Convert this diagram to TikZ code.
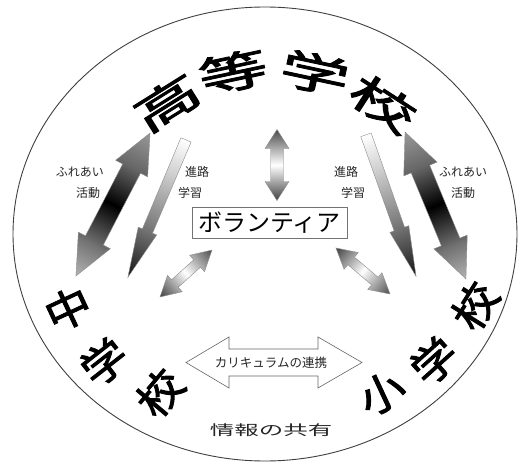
\documentclass[tikz,border=0pt]{standalone}
\usepackage{fontspec}
\newfontfamily\jp{Noto Sans CJK JP}
\newfontfamily\jpb[FakeBold=2]{Noto Sans CJK JP}
\pgfdeclarehorizontalshading{fureai}{100bp}{color(0bp)=(black!30); color(25bp)=(black!30); color(36bp)=(black!55); color(50bp)=(black); color(63bp)=(black!60); color(75bp)=(black!40); color(100bp)=(black!40)}
\pgfdeclarehorizontalshading{shinro}{100bp}{color(0bp)=(white); color(25bp)=(white); color(38bp)=(black!20); color(58bp)=(black!55); color(75bp)=(black!92); color(100bp)=(black!92)}
\pgfdeclarehorizontalshading{volsh}{100bp}{color(0bp)=(black!75); color(25bp)=(black!75); color(50bp)=(white); color(75bp)=(black!70); color(100bp)=(black!70)}
% double block arrow: x y angle length shafthalf headhalf headlen shading
\newcommand{\DArr}[8]{%
  \begin{scope}[transform canvas={shift={(#1,#2)},rotate=#3}]
    \pgfmathsetmacro\hh{#4/2}
    \shadedraw[shading=#8, draw=black!45, line width=0.4pt]
      (-\hh,0) -- ({-\hh+#7},#6) -- ({-\hh+#7},#5) -- ({\hh-#7},#5) -- ({\hh-#7},#6) -- (\hh,0)
      -- ({\hh-#7},-#6) -- ({\hh-#7},-#5) -- ({-\hh+#7},-#5) -- ({-\hh+#7},-#6) -- cycle;
  \end{scope}}
% single block arrow (tip at +x)
\newcommand{\SArr}[8]{%
  \begin{scope}[transform canvas={shift={(#1,#2)},rotate=#3}]
    \pgfmathsetmacro\hh{#4/2}
    \shadedraw[shading=#8, draw=black!45, line width=0.4pt]
      (-\hh,#5) -- ({\hh-#7},#5) -- ({\hh-#7},#6) -- (\hh,0)
      -- ({\hh-#7},-#6) -- ({\hh-#7},-#5) -- (-\hh,-#5) -- cycle;
  \end{scope}}
\begin{document}
\begin{tikzpicture}[x=1pt,y=-1pt,
  bigT/.style={inner sep=0pt, font=\jpb\fontsize{42}{42}\selectfont},
  bigS/.style={inner sep=0pt, font=\jpb\fontsize{42}{42}\selectfont},
  lbl/.style={inner sep=0pt, text=black!85, font=\jp\fontsize{12}{12}\selectfont}]
\useasboundingbox (0,0) rectangle (523,463);
\fill[white] (0,0) rectangle (523,463);
\draw[black!75, line width=0.9pt] (265,234) ellipse [x radius=252pt, y radius=227pt];

% arched title 高等学校
\node[bigT, rotate=32]  (h1) at (167,103) {\scalebox{1.65}[1]{高}};
\node[bigT, rotate=12]  (h2) at (233,72)  {\scalebox{1.65}[1]{等}};
\node[bigT, rotate=-12] (h3) at (315,73)  {\scalebox{1.65}[1]{学}};
\node[bigT, rotate=-33] (h4) at (383,104) {\scalebox{1.65}[1]{校}};

% 中学校
\node[bigS, rotate=25] (c1) at (68,309)  {\scalebox{1.1}[1]{中}};
\node[bigS, rotate=38] (c2) at (104,362) {\scalebox{1.1}[1]{学}};
\node[bigS, rotate=50] (c3) at (160,393) {\scalebox{1.1}[1]{校}};

% 小学校
\node[bigS, rotate=25] (s1) at (382,393) {\scalebox{1.1}[1]{小}};
\node[bigS, rotate=42] (s2) at (434,361) {\scalebox{1.1}[1]{学}};
\node[bigS, rotate=58] (s3) at (475,306) {\scalebox{1.1}[1]{校}};

% block arrows
\DArr{113}{204.5}{62.6}{161}{10}{18}{40}{fureai}
\DArr{435.5}{205.5}{112.5}{159}{10}{18}{40}{fureai}
\SArr{157}{208.5}{247.05}{149}{5.5}{10}{50}{shinro}
\SArr{391}{205.5}{289.5}{150}{5.5}{10}{50}{shinro}
\DArr{277}{165}{90}{71}{6.5}{12}{19}{volsh}
\DArr{186}{273.5}{42.1}{70}{5}{11}{20}{volsh}
\DArr{363}{271}{-40.4}{71}{5}{11}{20}{volsh}

% curriculum arrow
\draw[fill=white, draw=black!60, line width=0.6pt]
  (186,362.5) -- (229,337) -- (229,349) -- (318,349) -- (318,337) -- (362,362.5)
  -- (318,388) -- (318,376) -- (229,376) -- (229,388) -- cycle;
\node[inner sep=0pt, text=black!85, font=\jp\fontsize{12.5}{13}\selectfont] (cur) at (271,363) {カリキュラムの連携};

% volunteer box
\node[draw=black!55, line width=0.8pt, minimum width=155pt, minimum height=31pt, inner sep=0pt,
      font=\jp\fontsize{24}{24}\selectfont] (vol) at (269.5,222.5) {ボランティア};

% labels
\node[lbl] (f1) at (80,172)  {ふれあい};
\node[lbl] (f2) at (88,193)  {活動};
\node[lbl] (f3) at (463,172) {ふれあい};
\node[lbl] (f4) at (463,193) {活動};
\node[lbl] (r1) at (197,172) {進路};
\node[lbl] (r2) at (190,193) {学習};
\node[lbl] (r3) at (346,172) {進路};
\node[lbl] (r4) at (353,193) {学習};

\node[inner sep=0pt, text=black!85, font=\jp\fontsize{14}{14}\selectfont] (info) at (271,430) {\scalebox{1.75}[1]{情報の共有}};
\end{tikzpicture}
\end{document}
